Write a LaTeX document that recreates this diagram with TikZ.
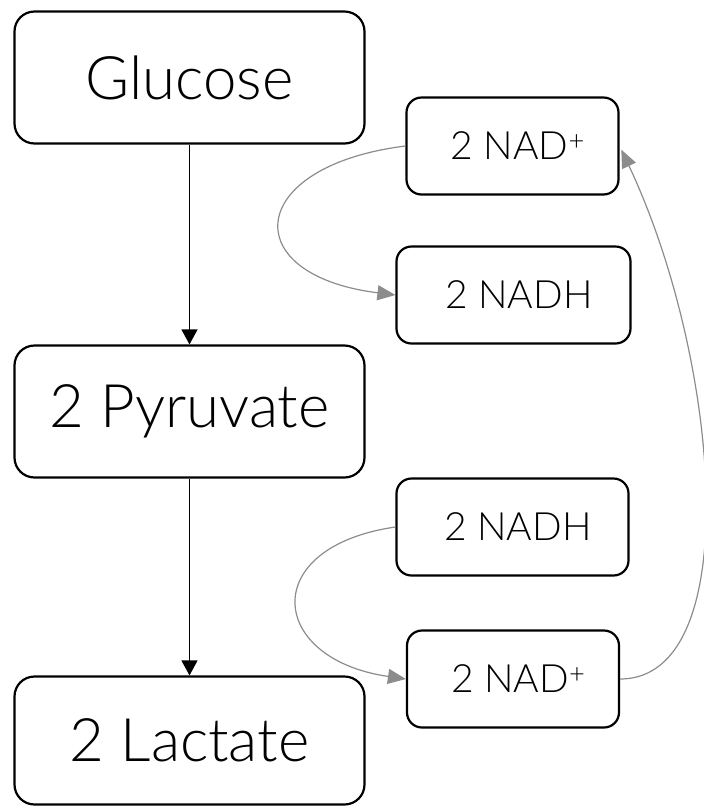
\documentclass[tikz,border=0pt]{standalone}
\usepackage{fontspec}
\setmainfont{Lato}[UprightFont=* Light]
\usetikzlibrary{arrows.meta}
\tikzset{
	bigbox/.style={draw=black, line width=2.2pt, rounded corners=20pt, minimum width=350pt, minimum height=132pt, inner sep=0pt, font=\fontsize{60}{68}\selectfont},
	smallbox/.style={draw=black, line width=2.2pt, rounded corners=15pt, minimum height=97pt, inner sep=0pt, font=\fontsize{39}{46}\selectfont},
	mainarrow/.style={line width=1.3pt, -{Triangle[length=15pt,width=16pt]}},
	cyclearrow/.style={draw=black!45, line width=1.2pt, -{Triangle[length=18pt,width=15pt]}, black!45}
}

\begin{document}
\begin{tikzpicture}[x=1pt, y=-1pt]
			\useasboundingbox (0, 0) rectangle (704, 807);
			%%%%% START %%%%%
			
			\node[bigbox] (glucose) at (189.5, 77.5) {Glucose};
			\node[bigbox] (pyruvate) at (189.5, 411.5) {2 Pyruvate};
			\node[bigbox, minimum height=128pt] (lactate) at (189.5, 740.5) {2 Lactate};
			
			\node[smallbox, minimum width=212pt] (nadA) at (512.5, 146) {~2 NAD\textsuperscript{+}};
			\node[smallbox, minimum width=234pt] (nadhA) at (513.5, 295) {~2 NADH};
			\node[smallbox, minimum width=232pt] (nadhB) at (512.5, 527) {~2 NADH};
			\node[smallbox, minimum width=212pt] (nadB) at (513, 679) {~2 NAD\textsuperscript{+}};
			
			\draw[mainarrow] (glucose) -- (pyruvate);
			\draw[mainarrow] (pyruvate) -- (lactate);
			
			\draw[cyclearrow] (nadA.west) .. controls +(-160, 20) and +(-160, -20) .. (nadhA.west);
			\draw[cyclearrow] (nadhB.west) .. controls +(-138, 20) and +(-138, -20) .. (nadB.west);
			\draw[cyclearrow, shorten >=4pt] (nadB.east) .. controls +(126, 0) and +(101, 214) .. (nadA.east);
			
			%%%%% END %%%%%
\end{tikzpicture}
\end{document}
